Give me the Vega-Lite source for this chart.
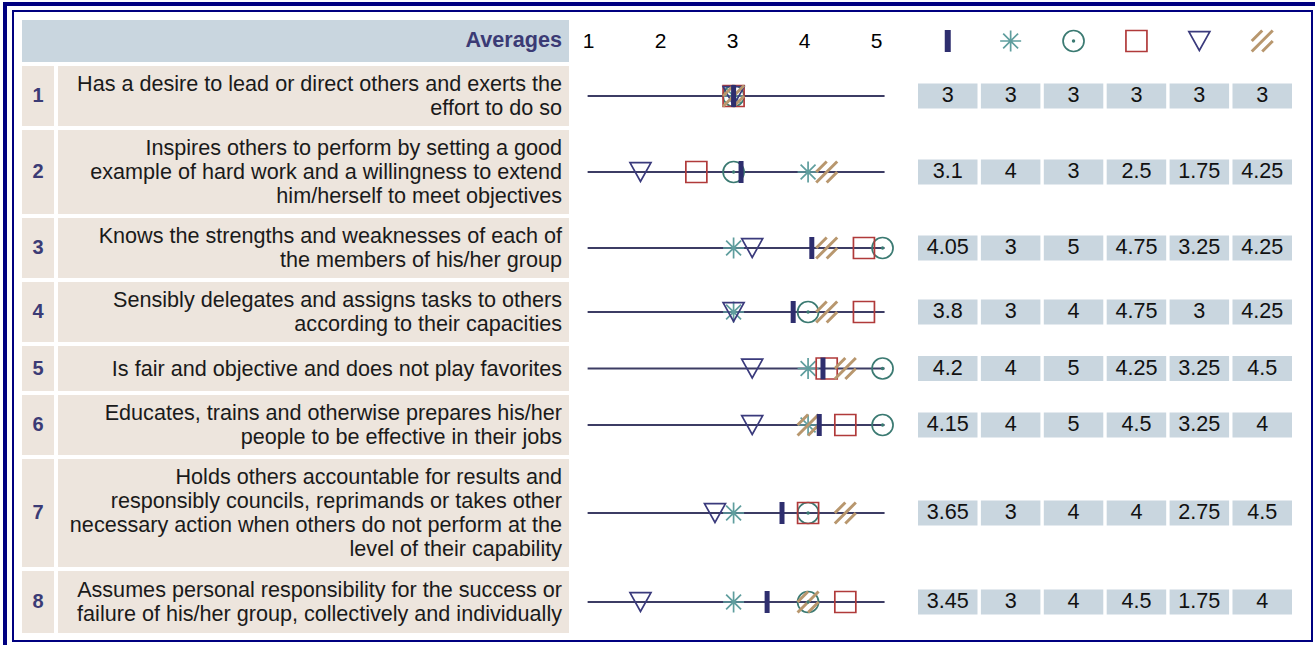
{
"$schema": "https://vega.github.io/schema/vega-lite/v6.json",
"padding": {"left": 3, "top": 2, "right": 0, "bottom": 0},
"background": "#ffffff",
"config": {"view": {"stroke": null}, "font": "Liberation Sans", "text": {"font": "Liberation Sans"}},
"datasets": {
"items": [
{"item":1,"text":"Has a desire to lead or direct others and exerts the\neffort to do so"},
{"item":2,"text":"Inspires others to perform by setting a good\nexample of hard work and a willingness to extend\nhim/herself to meet objectives"},
{"item":3,"text":"Knows the strengths and weaknesses of each of\nthe members of his/her group"},
{"item":4,"text":"Sensibly delegates and assigns tasks to others\naccording to their capacities"},
{"item":5,"text":"Is fair and objective and does not play favorites"},
{"item":6,"text":"Educates, trains and otherwise prepares his/her\npeople to be effective in their jobs"},
{"item":7,"text":"Holds others accountable for results and\nresponsibly councils, reprimands or takes other\nnecessary action when others do not perform at the\nlevel of their capability"},
{"item":8,"text":"Assumes personal responsibility for the success or\nfailure of his/her group, collectively and individually"}
],
"scores": [
{"item":1,"series":"Average","value":3},{"item":1,"series":"Group 1","value":3},{"item":1,"series":"Group 2","value":3},{"item":1,"series":"Group 3","value":3},{"item":1,"series":"Group 4","value":3},{"item":1,"series":"Group 5","value":3},
{"item":2,"series":"Average","value":3.1},{"item":2,"series":"Group 1","value":4},{"item":2,"series":"Group 2","value":3},{"item":2,"series":"Group 3","value":2.5},{"item":2,"series":"Group 4","value":1.75},{"item":2,"series":"Group 5","value":4.25},
{"item":3,"series":"Average","value":4.05},{"item":3,"series":"Group 1","value":3},{"item":3,"series":"Group 2","value":5},{"item":3,"series":"Group 3","value":4.75},{"item":3,"series":"Group 4","value":3.25},{"item":3,"series":"Group 5","value":4.25},
{"item":4,"series":"Average","value":3.8},{"item":4,"series":"Group 1","value":3},{"item":4,"series":"Group 2","value":4},{"item":4,"series":"Group 3","value":4.75},{"item":4,"series":"Group 4","value":3},{"item":4,"series":"Group 5","value":4.25},
{"item":5,"series":"Average","value":4.2},{"item":5,"series":"Group 1","value":4},{"item":5,"series":"Group 2","value":5},{"item":5,"series":"Group 3","value":4.25},{"item":5,"series":"Group 4","value":3.25},{"item":5,"series":"Group 5","value":4.5},
{"item":6,"series":"Average","value":4.15},{"item":6,"series":"Group 1","value":4},{"item":6,"series":"Group 2","value":5},{"item":6,"series":"Group 3","value":4.5},{"item":6,"series":"Group 4","value":3.25},{"item":6,"series":"Group 5","value":4},
{"item":7,"series":"Average","value":3.65},{"item":7,"series":"Group 1","value":3},{"item":7,"series":"Group 2","value":4},{"item":7,"series":"Group 3","value":4},{"item":7,"series":"Group 4","value":2.75},{"item":7,"series":"Group 5","value":4.5},
{"item":8,"series":"Average","value":3.45},{"item":8,"series":"Group 1","value":3},{"item":8,"series":"Group 2","value":4},{"item":8,"series":"Group 3","value":4.5},{"item":8,"series":"Group 4","value":1.75},{"item":8,"series":"Group 5","value":4}
]
},
"spacing": 0,
"vconcat": [
{"width": 1312, "height": 4, "data": {"values": []}, "mark": "rect", "view": {"fill": "#000080"}},
{"spacing": 5, "hconcat": [
{"width": 4, "height": 639, "data": {"values": []}, "mark": "rect", "view": {"fill": "#000080"}},
{"spacing": 0, "vconcat": [
{"width": 1, "height": 4, "data": {"values": []}, "mark": "rect"},
{"spacing": 0, "vconcat": [
{"width": 1301, "height": 2, "data": {"values": []}, "mark": "rect", "view": {"fill": "#000080"}},
{"spacing": 8, "hconcat": [
{"width": 2, "height": 628, "data": {"values": []}, "mark": "rect", "view": {"fill": "#000080"}},
{"spacing": 4, "vconcat": [
{"width": 1, "height": 4, "data": {"values": []}, "mark": "rect"},

{"spacing": 4, "hconcat": [
{"width": 547, "height": 42, "view": {"fill": "#c9d6df"}, "data": {"values": [{"label": "Averages"}]}, "mark": {"type": "text", "align": "right", "dx": -7, "fontSize": 21.6, "fontWeight": "bold", "color": "#3b3b75"}, "encoding": {"text": {"field": "label", "type": "nominal"}, "x": {"value": "width"}}},
{"width": 341, "height": 42, "data": {"name": "scores"}, "transform": [{"filter": "datum.item == 1"}], "mark": {"type": "point", "opacity": 0}, "encoding": {"x": {"field": "value", "type": "quantitative", "scale": {"domain": [0.792, 5.528]}, "axis": {"orient": "bottom", "offset": -21, "domain": false, "ticks": false, "tickSize": 0, "grid": false, "labelPadding": 0, "labelBaseline": "middle", "labelFontSize": 21, "labelColor": "#000000", "labelFont": "Liberation Sans", "values": [1,2,3,4,5], "format": "d", "title": null, "labelFlush": false, "labelOverlap": false}}}},
{"width": 385, "height": 42, "data": {"name": "scores"}, "transform": [{"filter": "datum.item == 1"}], "layer": [
{"transform": [{"filter": "datum.series != 'Average' && datum.series != 'Group 5'"}], "mark": {"type": "point", "filled": false, "opacity": 1, "size": 441, "strokeWidth": 1.7}, "encoding": {"x": {"field": "series", "type": "nominal", "scale": {"domain": ["Average","Group 1","Group 2","Group 3","Group 4","Group 5"], "paddingInner": 0.054, "paddingOuter": 0.0875, "align": 0}, "axis": null}, "shape": {"field": "series", "type": "nominal", "scale": {"domain": ["Group 1","Group 2","Group 3","Group 4","Group 5"], "range": ["M0,-1L0,1M-1,0L1,0M-0.71,-0.71L0.71,0.71M-0.71,0.71L0.71,-0.71","circle","square","M-1,-0.9L1,-0.9L0,0.9Z","M-1,0L0,-1M-1,1L1,-1M0,1L1,0"]}, "legend": null}, "color": {"field": "series", "type": "nominal", "scale": {"domain": ["Group 1","Group 2","Group 3","Group 4","Group 5"], "range": ["#5f9e9e","#3b7a72","#b03a3a","#3a3a7c","#b8976e"]}, "legend": null}}},
{"transform": [{"filter": "datum.series == 'Group 5'"}], "mark": {"type": "point", "filled": false, "opacity": 1, "size": 441, "strokeWidth": 3}, "encoding": {"x": {"field": "series", "type": "nominal", "scale": {"domain": ["Average","Group 1","Group 2","Group 3","Group 4","Group 5"], "paddingInner": 0.054, "paddingOuter": 0.0875, "align": 0}, "axis": null}, "shape": {"field": "series", "type": "nominal", "scale": {"domain": ["Group 1","Group 2","Group 3","Group 4","Group 5"], "range": ["M0,-1L0,1M-1,0L1,0M-0.71,-0.71L0.71,0.71M-0.71,0.71L0.71,-0.71","circle","square","M-1,-0.9L1,-0.9L0,0.9Z","M-1,0L0,-1M-1,1L1,-1M0,1L1,0"]}, "legend": null}, "color": {"field": "series", "type": "nominal", "scale": {"domain": ["Group 1","Group 2","Group 3","Group 4","Group 5"], "range": ["#5f9e9e","#3b7a72","#b03a3a","#3a3a7c","#b8976e"]}, "legend": null}}},
{"transform": [{"filter": "datum.series == 'Group 2'"}], "mark": {"type": "circle", "size": 12, "opacity": 1, "color": "#3b7a72"}, "encoding": {"x": {"field": "series", "type": "nominal", "scale": {"domain": ["Average","Group 1","Group 2","Group 3","Group 4","Group 5"], "paddingInner": 0.054, "paddingOuter": 0.0875, "align": 0}, "axis": null}}},
{"transform": [{"filter": "datum.series == 'Average'"}], "mark": {"type": "tick", "orient": "vertical", "thickness": 6, "size": 22, "color": "#2e2e6e", "opacity": 1}, "encoding": {"x": {"field": "series", "type": "nominal", "scale": {"domain": ["Average","Group 1","Group 2","Group 3","Group 4","Group 5"], "paddingInner": 0.054, "paddingOuter": 0.0875, "align": 0}, "axis": null}}}
]}
]},

{"spacing": 4, "hconcat": [
{"width": 32, "height": 60, "view": {"fill": "#ede5dd"}, "data": {"name": "items"}, "transform": [{"filter": "datum.item == 1"}], "mark": {"type": "text", "fontSize": 20, "fontWeight": "bold", "color": "#3b3b75"}, "encoding": {"text": {"field": "item", "type": "nominal"}}},
{"width": 511, "height": 60, "view": {"fill": "#ede5dd"}, "data": {"name": "items"}, "transform": [{"filter": "datum.item == 1"}], "mark": {"type": "text", "align": "right", "dx": -7, "dy": -11, "fontSize": 21.6, "lineHeight": 24, "lineBreak": "\n", "color": "#1a1a1a"}, "encoding": {"text": {"field": "text", "type": "nominal"}, "x": {"value": "width"}}},
{"width": 341, "height": 60, "data": {"name": "scores"}, "transform": [{"filter": "datum.item == 1"}], "layer": [
{"data": {"name": "items"}, "transform": [{"filter": "datum.item == 1"}], "mark": {"type": "rule", "color": "#3c3c64", "strokeWidth": 2, "xOffset": 3, "x2Offset": 2}, "encoding": {"x": {"datum": 1, "type": "quantitative", "scale": {"domain": [0.844, 5.422]}, "axis": null}, "x2": {"datum": 5}}},
{"transform": [{"filter": "datum.series != 'Average' && datum.series != 'Group 5'"}], "mark": {"type": "point", "filled": false, "opacity": 1, "size": 441, "strokeWidth": 1.7}, "encoding": {"x": {"field": "value", "type": "quantitative", "scale": {"domain": [0.844, 5.422]}, "axis": null}, "shape": {"field": "series", "type": "nominal", "scale": {"domain": ["Group 1","Group 2","Group 3","Group 4","Group 5"], "range": ["M0,-1L0,1M-1,0L1,0M-0.71,-0.71L0.71,0.71M-0.71,0.71L0.71,-0.71","circle","square","M-1,-0.9L1,-0.9L0,0.9Z","M-1,0L0,-1M-1,1L1,-1M0,1L1,0"]}, "legend": null}, "color": {"field": "series", "type": "nominal", "scale": {"domain": ["Group 1","Group 2","Group 3","Group 4","Group 5"], "range": ["#5f9e9e","#3b7a72","#b03a3a","#3a3a7c","#b8976e"]}, "legend": null}}},
{"transform": [{"filter": "datum.series == 'Group 5'"}], "mark": {"type": "point", "filled": false, "opacity": 1, "size": 441, "strokeWidth": 3}, "encoding": {"x": {"field": "value", "type": "quantitative", "scale": {"domain": [0.844, 5.422]}, "axis": null}, "shape": {"field": "series", "type": "nominal", "scale": {"domain": ["Group 1","Group 2","Group 3","Group 4","Group 5"], "range": ["M0,-1L0,1M-1,0L1,0M-0.71,-0.71L0.71,0.71M-0.71,0.71L0.71,-0.71","circle","square","M-1,-0.9L1,-0.9L0,0.9Z","M-1,0L0,-1M-1,1L1,-1M0,1L1,0"]}, "legend": null}, "color": {"field": "series", "type": "nominal", "scale": {"domain": ["Group 1","Group 2","Group 3","Group 4","Group 5"], "range": ["#5f9e9e","#3b7a72","#b03a3a","#3a3a7c","#b8976e"]}, "legend": null}}},
{"transform": [{"filter": "datum.series == 'Group 2'"}], "mark": {"type": "circle", "size": 12, "opacity": 1, "color": "#3b7a72"}, "encoding": {"x": {"field": "value", "type": "quantitative", "scale": {"domain": [0.844, 5.422]}, "axis": null}}},
{"transform": [{"filter": "datum.series == 'Average'"}], "mark": {"type": "tick", "orient": "vertical", "thickness": 5, "size": 22, "color": "#2e2e6e", "opacity": 1}, "encoding": {"x": {"field": "value", "type": "quantitative", "scale": {"domain": [0.844, 5.422]}, "axis": null}}}
]},
{"width": 385, "height": 60, "data": {"name": "scores"}, "transform": [{"filter": "datum.item == 1"}], "encoding": {"x": {"field": "series", "type": "nominal", "scale": {"domain": ["Average","Group 1","Group 2","Group 3","Group 4","Group 5"], "paddingInner": 0.054, "paddingOuter": 0.0875, "align": 0}, "axis": null}, "y": {"field": "item", "type": "nominal", "scale": {"paddingInner": 0, "paddingOuter": 0}, "axis": null}}, "layer": [
{"mark": {"type": "rect", "height": 25, "color": "#c9d6df"}},
{"mark": {"type": "text", "fontSize": 21.6, "color": "#111111"}, "encoding": {"text": {"field": "value", "type": "quantitative", "format": "~g"}}}
]}
]},

{"spacing": 4, "hconcat": [
{"width": 32, "height": 84, "view": {"fill": "#ede5dd"}, "data": {"name": "items"}, "transform": [{"filter": "datum.item == 2"}], "mark": {"type": "text", "fontSize": 20, "fontWeight": "bold", "color": "#3b3b75"}, "encoding": {"text": {"field": "item", "type": "nominal"}}},
{"width": 511, "height": 84, "view": {"fill": "#ede5dd"}, "data": {"name": "items"}, "transform": [{"filter": "datum.item == 2"}], "mark": {"type": "text", "align": "right", "dx": -7, "dy": -23, "fontSize": 21.6, "lineHeight": 24, "lineBreak": "\n", "color": "#1a1a1a"}, "encoding": {"text": {"field": "text", "type": "nominal"}, "x": {"value": "width"}}},
{"width": 341, "height": 84, "data": {"name": "scores"}, "transform": [{"filter": "datum.item == 2"}], "layer": [
{"data": {"name": "items"}, "transform": [{"filter": "datum.item == 2"}], "mark": {"type": "rule", "color": "#3c3c64", "strokeWidth": 2, "xOffset": 3, "x2Offset": 2}, "encoding": {"x": {"datum": 1, "type": "quantitative", "scale": {"domain": [0.844, 5.422]}, "axis": null}, "x2": {"datum": 5}}},
{"transform": [{"filter": "datum.series != 'Average' && datum.series != 'Group 5'"}], "mark": {"type": "point", "filled": false, "opacity": 1, "size": 441, "strokeWidth": 1.7}, "encoding": {"x": {"field": "value", "type": "quantitative", "scale": {"domain": [0.844, 5.422]}, "axis": null}, "shape": {"field": "series", "type": "nominal", "scale": {"domain": ["Group 1","Group 2","Group 3","Group 4","Group 5"], "range": ["M0,-1L0,1M-1,0L1,0M-0.71,-0.71L0.71,0.71M-0.71,0.71L0.71,-0.71","circle","square","M-1,-0.9L1,-0.9L0,0.9Z","M-1,0L0,-1M-1,1L1,-1M0,1L1,0"]}, "legend": null}, "color": {"field": "series", "type": "nominal", "scale": {"domain": ["Group 1","Group 2","Group 3","Group 4","Group 5"], "range": ["#5f9e9e","#3b7a72","#b03a3a","#3a3a7c","#b8976e"]}, "legend": null}}},
{"transform": [{"filter": "datum.series == 'Group 5'"}], "mark": {"type": "point", "filled": false, "opacity": 1, "size": 441, "strokeWidth": 3}, "encoding": {"x": {"field": "value", "type": "quantitative", "scale": {"domain": [0.844, 5.422]}, "axis": null}, "shape": {"field": "series", "type": "nominal", "scale": {"domain": ["Group 1","Group 2","Group 3","Group 4","Group 5"], "range": ["M0,-1L0,1M-1,0L1,0M-0.71,-0.71L0.71,0.71M-0.71,0.71L0.71,-0.71","circle","square","M-1,-0.9L1,-0.9L0,0.9Z","M-1,0L0,-1M-1,1L1,-1M0,1L1,0"]}, "legend": null}, "color": {"field": "series", "type": "nominal", "scale": {"domain": ["Group 1","Group 2","Group 3","Group 4","Group 5"], "range": ["#5f9e9e","#3b7a72","#b03a3a","#3a3a7c","#b8976e"]}, "legend": null}}},
{"transform": [{"filter": "datum.series == 'Group 2'"}], "mark": {"type": "circle", "size": 12, "opacity": 1, "color": "#3b7a72"}, "encoding": {"x": {"field": "value", "type": "quantitative", "scale": {"domain": [0.844, 5.422]}, "axis": null}}},
{"transform": [{"filter": "datum.series == 'Average'"}], "mark": {"type": "tick", "orient": "vertical", "thickness": 5, "size": 22, "color": "#2e2e6e", "opacity": 1}, "encoding": {"x": {"field": "value", "type": "quantitative", "scale": {"domain": [0.844, 5.422]}, "axis": null}}}
]},
{"width": 385, "height": 84, "data": {"name": "scores"}, "transform": [{"filter": "datum.item == 2"}], "encoding": {"x": {"field": "series", "type": "nominal", "scale": {"domain": ["Average","Group 1","Group 2","Group 3","Group 4","Group 5"], "paddingInner": 0.054, "paddingOuter": 0.0875, "align": 0}, "axis": null}, "y": {"field": "item", "type": "nominal", "scale": {"paddingInner": 0, "paddingOuter": 0}, "axis": null}}, "layer": [
{"mark": {"type": "rect", "height": 25, "color": "#c9d6df"}},
{"mark": {"type": "text", "fontSize": 21.6, "color": "#111111"}, "encoding": {"text": {"field": "value", "type": "quantitative", "format": "~g"}}}
]}
]},

{"spacing": 4, "hconcat": [
{"width": 32, "height": 60, "view": {"fill": "#ede5dd"}, "data": {"name": "items"}, "transform": [{"filter": "datum.item == 3"}], "mark": {"type": "text", "fontSize": 20, "fontWeight": "bold", "color": "#3b3b75"}, "encoding": {"text": {"field": "item", "type": "nominal"}}},
{"width": 511, "height": 60, "view": {"fill": "#ede5dd"}, "data": {"name": "items"}, "transform": [{"filter": "datum.item == 3"}], "mark": {"type": "text", "align": "right", "dx": -7, "dy": -11, "fontSize": 21.6, "lineHeight": 24, "lineBreak": "\n", "color": "#1a1a1a"}, "encoding": {"text": {"field": "text", "type": "nominal"}, "x": {"value": "width"}}},
{"width": 341, "height": 60, "data": {"name": "scores"}, "transform": [{"filter": "datum.item == 3"}], "layer": [
{"data": {"name": "items"}, "transform": [{"filter": "datum.item == 3"}], "mark": {"type": "rule", "color": "#3c3c64", "strokeWidth": 2, "xOffset": 3, "x2Offset": 2}, "encoding": {"x": {"datum": 1, "type": "quantitative", "scale": {"domain": [0.844, 5.422]}, "axis": null}, "x2": {"datum": 5}}},
{"transform": [{"filter": "datum.series != 'Average' && datum.series != 'Group 5'"}], "mark": {"type": "point", "filled": false, "opacity": 1, "size": 441, "strokeWidth": 1.7}, "encoding": {"x": {"field": "value", "type": "quantitative", "scale": {"domain": [0.844, 5.422]}, "axis": null}, "shape": {"field": "series", "type": "nominal", "scale": {"domain": ["Group 1","Group 2","Group 3","Group 4","Group 5"], "range": ["M0,-1L0,1M-1,0L1,0M-0.71,-0.71L0.71,0.71M-0.71,0.71L0.71,-0.71","circle","square","M-1,-0.9L1,-0.9L0,0.9Z","M-1,0L0,-1M-1,1L1,-1M0,1L1,0"]}, "legend": null}, "color": {"field": "series", "type": "nominal", "scale": {"domain": ["Group 1","Group 2","Group 3","Group 4","Group 5"], "range": ["#5f9e9e","#3b7a72","#b03a3a","#3a3a7c","#b8976e"]}, "legend": null}}},
{"transform": [{"filter": "datum.series == 'Group 5'"}], "mark": {"type": "point", "filled": false, "opacity": 1, "size": 441, "strokeWidth": 3}, "encoding": {"x": {"field": "value", "type": "quantitative", "scale": {"domain": [0.844, 5.422]}, "axis": null}, "shape": {"field": "series", "type": "nominal", "scale": {"domain": ["Group 1","Group 2","Group 3","Group 4","Group 5"], "range": ["M0,-1L0,1M-1,0L1,0M-0.71,-0.71L0.71,0.71M-0.71,0.71L0.71,-0.71","circle","square","M-1,-0.9L1,-0.9L0,0.9Z","M-1,0L0,-1M-1,1L1,-1M0,1L1,0"]}, "legend": null}, "color": {"field": "series", "type": "nominal", "scale": {"domain": ["Group 1","Group 2","Group 3","Group 4","Group 5"], "range": ["#5f9e9e","#3b7a72","#b03a3a","#3a3a7c","#b8976e"]}, "legend": null}}},
{"transform": [{"filter": "datum.series == 'Group 2'"}], "mark": {"type": "circle", "size": 12, "opacity": 1, "color": "#3b7a72"}, "encoding": {"x": {"field": "value", "type": "quantitative", "scale": {"domain": [0.844, 5.422]}, "axis": null}}},
{"transform": [{"filter": "datum.series == 'Average'"}], "mark": {"type": "tick", "orient": "vertical", "thickness": 5, "size": 22, "color": "#2e2e6e", "opacity": 1}, "encoding": {"x": {"field": "value", "type": "quantitative", "scale": {"domain": [0.844, 5.422]}, "axis": null}}}
]},
{"width": 385, "height": 60, "data": {"name": "scores"}, "transform": [{"filter": "datum.item == 3"}], "encoding": {"x": {"field": "series", "type": "nominal", "scale": {"domain": ["Average","Group 1","Group 2","Group 3","Group 4","Group 5"], "paddingInner": 0.054, "paddingOuter": 0.0875, "align": 0}, "axis": null}, "y": {"field": "item", "type": "nominal", "scale": {"paddingInner": 0, "paddingOuter": 0}, "axis": null}}, "layer": [
{"mark": {"type": "rect", "height": 25, "color": "#c9d6df"}},
{"mark": {"type": "text", "fontSize": 21.6, "color": "#111111"}, "encoding": {"text": {"field": "value", "type": "quantitative", "format": "~g"}}}
]}
]},

{"spacing": 4, "hconcat": [
{"width": 32, "height": 60, "view": {"fill": "#ede5dd"}, "data": {"name": "items"}, "transform": [{"filter": "datum.item == 4"}], "mark": {"type": "text", "fontSize": 20, "fontWeight": "bold", "color": "#3b3b75"}, "encoding": {"text": {"field": "item", "type": "nominal"}}},
{"width": 511, "height": 60, "view": {"fill": "#ede5dd"}, "data": {"name": "items"}, "transform": [{"filter": "datum.item == 4"}], "mark": {"type": "text", "align": "right", "dx": -7, "dy": -11, "fontSize": 21.6, "lineHeight": 24, "lineBreak": "\n", "color": "#1a1a1a"}, "encoding": {"text": {"field": "text", "type": "nominal"}, "x": {"value": "width"}}},
{"width": 341, "height": 60, "data": {"name": "scores"}, "transform": [{"filter": "datum.item == 4"}], "layer": [
{"data": {"name": "items"}, "transform": [{"filter": "datum.item == 4"}], "mark": {"type": "rule", "color": "#3c3c64", "strokeWidth": 2, "xOffset": 3, "x2Offset": 2}, "encoding": {"x": {"datum": 1, "type": "quantitative", "scale": {"domain": [0.844, 5.422]}, "axis": null}, "x2": {"datum": 5}}},
{"transform": [{"filter": "datum.series != 'Average' && datum.series != 'Group 5'"}], "mark": {"type": "point", "filled": false, "opacity": 1, "size": 441, "strokeWidth": 1.7}, "encoding": {"x": {"field": "value", "type": "quantitative", "scale": {"domain": [0.844, 5.422]}, "axis": null}, "shape": {"field": "series", "type": "nominal", "scale": {"domain": ["Group 1","Group 2","Group 3","Group 4","Group 5"], "range": ["M0,-1L0,1M-1,0L1,0M-0.71,-0.71L0.71,0.71M-0.71,0.71L0.71,-0.71","circle","square","M-1,-0.9L1,-0.9L0,0.9Z","M-1,0L0,-1M-1,1L1,-1M0,1L1,0"]}, "legend": null}, "color": {"field": "series", "type": "nominal", "scale": {"domain": ["Group 1","Group 2","Group 3","Group 4","Group 5"], "range": ["#5f9e9e","#3b7a72","#b03a3a","#3a3a7c","#b8976e"]}, "legend": null}}},
{"transform": [{"filter": "datum.series == 'Group 5'"}], "mark": {"type": "point", "filled": false, "opacity": 1, "size": 441, "strokeWidth": 3}, "encoding": {"x": {"field": "value", "type": "quantitative", "scale": {"domain": [0.844, 5.422]}, "axis": null}, "shape": {"field": "series", "type": "nominal", "scale": {"domain": ["Group 1","Group 2","Group 3","Group 4","Group 5"], "range": ["M0,-1L0,1M-1,0L1,0M-0.71,-0.71L0.71,0.71M-0.71,0.71L0.71,-0.71","circle","square","M-1,-0.9L1,-0.9L0,0.9Z","M-1,0L0,-1M-1,1L1,-1M0,1L1,0"]}, "legend": null}, "color": {"field": "series", "type": "nominal", "scale": {"domain": ["Group 1","Group 2","Group 3","Group 4","Group 5"], "range": ["#5f9e9e","#3b7a72","#b03a3a","#3a3a7c","#b8976e"]}, "legend": null}}},
{"transform": [{"filter": "datum.series == 'Group 2'"}], "mark": {"type": "circle", "size": 12, "opacity": 1, "color": "#3b7a72"}, "encoding": {"x": {"field": "value", "type": "quantitative", "scale": {"domain": [0.844, 5.422]}, "axis": null}}},
{"transform": [{"filter": "datum.series == 'Average'"}], "mark": {"type": "tick", "orient": "vertical", "thickness": 5, "size": 22, "color": "#2e2e6e", "opacity": 1}, "encoding": {"x": {"field": "value", "type": "quantitative", "scale": {"domain": [0.844, 5.422]}, "axis": null}}}
]},
{"width": 385, "height": 60, "data": {"name": "scores"}, "transform": [{"filter": "datum.item == 4"}], "encoding": {"x": {"field": "series", "type": "nominal", "scale": {"domain": ["Average","Group 1","Group 2","Group 3","Group 4","Group 5"], "paddingInner": 0.054, "paddingOuter": 0.0875, "align": 0}, "axis": null}, "y": {"field": "item", "type": "nominal", "scale": {"paddingInner": 0, "paddingOuter": 0}, "axis": null}}, "layer": [
{"mark": {"type": "rect", "height": 25, "color": "#c9d6df"}},
{"mark": {"type": "text", "fontSize": 21.6, "color": "#111111"}, "encoding": {"text": {"field": "value", "type": "quantitative", "format": "~g"}}}
]}
]},

{"spacing": 4, "hconcat": [
{"width": 32, "height": 45, "view": {"fill": "#ede5dd"}, "data": {"name": "items"}, "transform": [{"filter": "datum.item == 5"}], "mark": {"type": "text", "fontSize": 20, "fontWeight": "bold", "color": "#3b3b75"}, "encoding": {"text": {"field": "item", "type": "nominal"}}},
{"width": 511, "height": 45, "view": {"fill": "#ede5dd"}, "data": {"name": "items"}, "transform": [{"filter": "datum.item == 5"}], "mark": {"type": "text", "align": "right", "dx": -7, "dy": 1, "fontSize": 21.6, "lineHeight": 24, "lineBreak": "\n", "color": "#1a1a1a"}, "encoding": {"text": {"field": "text", "type": "nominal"}, "x": {"value": "width"}}},
{"width": 341, "height": 45, "data": {"name": "scores"}, "transform": [{"filter": "datum.item == 5"}], "layer": [
{"data": {"name": "items"}, "transform": [{"filter": "datum.item == 5"}], "mark": {"type": "rule", "color": "#3c3c64", "strokeWidth": 2, "xOffset": 3, "x2Offset": 2}, "encoding": {"x": {"datum": 1, "type": "quantitative", "scale": {"domain": [0.844, 5.422]}, "axis": null}, "x2": {"datum": 5}}},
{"transform": [{"filter": "datum.series != 'Average' && datum.series != 'Group 5'"}], "mark": {"type": "point", "filled": false, "opacity": 1, "size": 441, "strokeWidth": 1.7}, "encoding": {"x": {"field": "value", "type": "quantitative", "scale": {"domain": [0.844, 5.422]}, "axis": null}, "shape": {"field": "series", "type": "nominal", "scale": {"domain": ["Group 1","Group 2","Group 3","Group 4","Group 5"], "range": ["M0,-1L0,1M-1,0L1,0M-0.71,-0.71L0.71,0.71M-0.71,0.71L0.71,-0.71","circle","square","M-1,-0.9L1,-0.9L0,0.9Z","M-1,0L0,-1M-1,1L1,-1M0,1L1,0"]}, "legend": null}, "color": {"field": "series", "type": "nominal", "scale": {"domain": ["Group 1","Group 2","Group 3","Group 4","Group 5"], "range": ["#5f9e9e","#3b7a72","#b03a3a","#3a3a7c","#b8976e"]}, "legend": null}}},
{"transform": [{"filter": "datum.series == 'Group 5'"}], "mark": {"type": "point", "filled": false, "opacity": 1, "size": 441, "strokeWidth": 3}, "encoding": {"x": {"field": "value", "type": "quantitative", "scale": {"domain": [0.844, 5.422]}, "axis": null}, "shape": {"field": "series", "type": "nominal", "scale": {"domain": ["Group 1","Group 2","Group 3","Group 4","Group 5"], "range": ["M0,-1L0,1M-1,0L1,0M-0.71,-0.71L0.71,0.71M-0.71,0.71L0.71,-0.71","circle","square","M-1,-0.9L1,-0.9L0,0.9Z","M-1,0L0,-1M-1,1L1,-1M0,1L1,0"]}, "legend": null}, "color": {"field": "series", "type": "nominal", "scale": {"domain": ["Group 1","Group 2","Group 3","Group 4","Group 5"], "range": ["#5f9e9e","#3b7a72","#b03a3a","#3a3a7c","#b8976e"]}, "legend": null}}},
{"transform": [{"filter": "datum.series == 'Group 2'"}], "mark": {"type": "circle", "size": 12, "opacity": 1, "color": "#3b7a72"}, "encoding": {"x": {"field": "value", "type": "quantitative", "scale": {"domain": [0.844, 5.422]}, "axis": null}}},
{"transform": [{"filter": "datum.series == 'Average'"}], "mark": {"type": "tick", "orient": "vertical", "thickness": 5, "size": 22, "color": "#2e2e6e", "opacity": 1}, "encoding": {"x": {"field": "value", "type": "quantitative", "scale": {"domain": [0.844, 5.422]}, "axis": null}}}
]},
{"width": 385, "height": 45, "data": {"name": "scores"}, "transform": [{"filter": "datum.item == 5"}], "encoding": {"x": {"field": "series", "type": "nominal", "scale": {"domain": ["Average","Group 1","Group 2","Group 3","Group 4","Group 5"], "paddingInner": 0.054, "paddingOuter": 0.0875, "align": 0}, "axis": null}, "y": {"field": "item", "type": "nominal", "scale": {"paddingInner": 0, "paddingOuter": 0}, "axis": null}}, "layer": [
{"mark": {"type": "rect", "height": 25, "color": "#c9d6df"}},
{"mark": {"type": "text", "fontSize": 21.6, "color": "#111111"}, "encoding": {"text": {"field": "value", "type": "quantitative", "format": "~g"}}}
]}
]},

{"spacing": 4, "hconcat": [
{"width": 32, "height": 60, "view": {"fill": "#ede5dd"}, "data": {"name": "items"}, "transform": [{"filter": "datum.item == 6"}], "mark": {"type": "text", "fontSize": 20, "fontWeight": "bold", "color": "#3b3b75"}, "encoding": {"text": {"field": "item", "type": "nominal"}}},
{"width": 511, "height": 60, "view": {"fill": "#ede5dd"}, "data": {"name": "items"}, "transform": [{"filter": "datum.item == 6"}], "mark": {"type": "text", "align": "right", "dx": -7, "dy": -11, "fontSize": 21.6, "lineHeight": 24, "lineBreak": "\n", "color": "#1a1a1a"}, "encoding": {"text": {"field": "text", "type": "nominal"}, "x": {"value": "width"}}},
{"width": 341, "height": 60, "data": {"name": "scores"}, "transform": [{"filter": "datum.item == 6"}], "layer": [
{"data": {"name": "items"}, "transform": [{"filter": "datum.item == 6"}], "mark": {"type": "rule", "color": "#3c3c64", "strokeWidth": 2, "xOffset": 3, "x2Offset": 2}, "encoding": {"x": {"datum": 1, "type": "quantitative", "scale": {"domain": [0.844, 5.422]}, "axis": null}, "x2": {"datum": 5}}},
{"transform": [{"filter": "datum.series != 'Average' && datum.series != 'Group 5'"}], "mark": {"type": "point", "filled": false, "opacity": 1, "size": 441, "strokeWidth": 1.7}, "encoding": {"x": {"field": "value", "type": "quantitative", "scale": {"domain": [0.844, 5.422]}, "axis": null}, "shape": {"field": "series", "type": "nominal", "scale": {"domain": ["Group 1","Group 2","Group 3","Group 4","Group 5"], "range": ["M0,-1L0,1M-1,0L1,0M-0.71,-0.71L0.71,0.71M-0.71,0.71L0.71,-0.71","circle","square","M-1,-0.9L1,-0.9L0,0.9Z","M-1,0L0,-1M-1,1L1,-1M0,1L1,0"]}, "legend": null}, "color": {"field": "series", "type": "nominal", "scale": {"domain": ["Group 1","Group 2","Group 3","Group 4","Group 5"], "range": ["#5f9e9e","#3b7a72","#b03a3a","#3a3a7c","#b8976e"]}, "legend": null}}},
{"transform": [{"filter": "datum.series == 'Group 5'"}], "mark": {"type": "point", "filled": false, "opacity": 1, "size": 441, "strokeWidth": 3}, "encoding": {"x": {"field": "value", "type": "quantitative", "scale": {"domain": [0.844, 5.422]}, "axis": null}, "shape": {"field": "series", "type": "nominal", "scale": {"domain": ["Group 1","Group 2","Group 3","Group 4","Group 5"], "range": ["M0,-1L0,1M-1,0L1,0M-0.71,-0.71L0.71,0.71M-0.71,0.71L0.71,-0.71","circle","square","M-1,-0.9L1,-0.9L0,0.9Z","M-1,0L0,-1M-1,1L1,-1M0,1L1,0"]}, "legend": null}, "color": {"field": "series", "type": "nominal", "scale": {"domain": ["Group 1","Group 2","Group 3","Group 4","Group 5"], "range": ["#5f9e9e","#3b7a72","#b03a3a","#3a3a7c","#b8976e"]}, "legend": null}}},
{"transform": [{"filter": "datum.series == 'Group 2'"}], "mark": {"type": "circle", "size": 12, "opacity": 1, "color": "#3b7a72"}, "encoding": {"x": {"field": "value", "type": "quantitative", "scale": {"domain": [0.844, 5.422]}, "axis": null}}},
{"transform": [{"filter": "datum.series == 'Average'"}], "mark": {"type": "tick", "orient": "vertical", "thickness": 5, "size": 22, "color": "#2e2e6e", "opacity": 1}, "encoding": {"x": {"field": "value", "type": "quantitative", "scale": {"domain": [0.844, 5.422]}, "axis": null}}}
]},
{"width": 385, "height": 60, "data": {"name": "scores"}, "transform": [{"filter": "datum.item == 6"}], "encoding": {"x": {"field": "series", "type": "nominal", "scale": {"domain": ["Average","Group 1","Group 2","Group 3","Group 4","Group 5"], "paddingInner": 0.054, "paddingOuter": 0.0875, "align": 0}, "axis": null}, "y": {"field": "item", "type": "nominal", "scale": {"paddingInner": 0, "paddingOuter": 0}, "axis": null}}, "layer": [
{"mark": {"type": "rect", "height": 25, "color": "#c9d6df"}},
{"mark": {"type": "text", "fontSize": 21.6, "color": "#111111"}, "encoding": {"text": {"field": "value", "type": "quantitative", "format": "~g"}}}
]}
]},

{"spacing": 4, "hconcat": [
{"width": 32, "height": 108, "view": {"fill": "#ede5dd"}, "data": {"name": "items"}, "transform": [{"filter": "datum.item == 7"}], "mark": {"type": "text", "fontSize": 20, "fontWeight": "bold", "color": "#3b3b75"}, "encoding": {"text": {"field": "item", "type": "nominal"}}},
{"width": 511, "height": 108, "view": {"fill": "#ede5dd"}, "data": {"name": "items"}, "transform": [{"filter": "datum.item == 7"}], "mark": {"type": "text", "align": "right", "dx": -7, "dy": -35, "fontSize": 21.6, "lineHeight": 24, "lineBreak": "\n", "color": "#1a1a1a"}, "encoding": {"text": {"field": "text", "type": "nominal"}, "x": {"value": "width"}}},
{"width": 341, "height": 108, "data": {"name": "scores"}, "transform": [{"filter": "datum.item == 7"}], "layer": [
{"data": {"name": "items"}, "transform": [{"filter": "datum.item == 7"}], "mark": {"type": "rule", "color": "#3c3c64", "strokeWidth": 2, "xOffset": 3, "x2Offset": 2}, "encoding": {"x": {"datum": 1, "type": "quantitative", "scale": {"domain": [0.844, 5.422]}, "axis": null}, "x2": {"datum": 5}}},
{"transform": [{"filter": "datum.series != 'Average' && datum.series != 'Group 5'"}], "mark": {"type": "point", "filled": false, "opacity": 1, "size": 441, "strokeWidth": 1.7}, "encoding": {"x": {"field": "value", "type": "quantitative", "scale": {"domain": [0.844, 5.422]}, "axis": null}, "shape": {"field": "series", "type": "nominal", "scale": {"domain": ["Group 1","Group 2","Group 3","Group 4","Group 5"], "range": ["M0,-1L0,1M-1,0L1,0M-0.71,-0.71L0.71,0.71M-0.71,0.71L0.71,-0.71","circle","square","M-1,-0.9L1,-0.9L0,0.9Z","M-1,0L0,-1M-1,1L1,-1M0,1L1,0"]}, "legend": null}, "color": {"field": "series", "type": "nominal", "scale": {"domain": ["Group 1","Group 2","Group 3","Group 4","Group 5"], "range": ["#5f9e9e","#3b7a72","#b03a3a","#3a3a7c","#b8976e"]}, "legend": null}}},
{"transform": [{"filter": "datum.series == 'Group 5'"}], "mark": {"type": "point", "filled": false, "opacity": 1, "size": 441, "strokeWidth": 3}, "encoding": {"x": {"field": "value", "type": "quantitative", "scale": {"domain": [0.844, 5.422]}, "axis": null}, "shape": {"field": "series", "type": "nominal", "scale": {"domain": ["Group 1","Group 2","Group 3","Group 4","Group 5"], "range": ["M0,-1L0,1M-1,0L1,0M-0.71,-0.71L0.71,0.71M-0.71,0.71L0.71,-0.71","circle","square","M-1,-0.9L1,-0.9L0,0.9Z","M-1,0L0,-1M-1,1L1,-1M0,1L1,0"]}, "legend": null}, "color": {"field": "series", "type": "nominal", "scale": {"domain": ["Group 1","Group 2","Group 3","Group 4","Group 5"], "range": ["#5f9e9e","#3b7a72","#b03a3a","#3a3a7c","#b8976e"]}, "legend": null}}},
{"transform": [{"filter": "datum.series == 'Group 2'"}], "mark": {"type": "circle", "size": 12, "opacity": 1, "color": "#3b7a72"}, "encoding": {"x": {"field": "value", "type": "quantitative", "scale": {"domain": [0.844, 5.422]}, "axis": null}}},
{"transform": [{"filter": "datum.series == 'Average'"}], "mark": {"type": "tick", "orient": "vertical", "thickness": 5, "size": 22, "color": "#2e2e6e", "opacity": 1}, "encoding": {"x": {"field": "value", "type": "quantitative", "scale": {"domain": [0.844, 5.422]}, "axis": null}}}
]},
{"width": 385, "height": 108, "data": {"name": "scores"}, "transform": [{"filter": "datum.item == 7"}], "encoding": {"x": {"field": "series", "type": "nominal", "scale": {"domain": ["Average","Group 1","Group 2","Group 3","Group 4","Group 5"], "paddingInner": 0.054, "paddingOuter": 0.0875, "align": 0}, "axis": null}, "y": {"field": "item", "type": "nominal", "scale": {"paddingInner": 0, "paddingOuter": 0}, "axis": null}}, "layer": [
{"mark": {"type": "rect", "height": 25, "color": "#c9d6df"}},
{"mark": {"type": "text", "fontSize": 21.6, "color": "#111111"}, "encoding": {"text": {"field": "value", "type": "quantitative", "format": "~g"}}}
]}
]},

{"spacing": 4, "hconcat": [
{"width": 32, "height": 62, "view": {"fill": "#ede5dd"}, "data": {"name": "items"}, "transform": [{"filter": "datum.item == 8"}], "mark": {"type": "text", "fontSize": 20, "fontWeight": "bold", "color": "#3b3b75"}, "encoding": {"text": {"field": "item", "type": "nominal"}}},
{"width": 511, "height": 62, "view": {"fill": "#ede5dd"}, "data": {"name": "items"}, "transform": [{"filter": "datum.item == 8"}], "mark": {"type": "text", "align": "right", "dx": -7, "dy": -11, "fontSize": 21.6, "lineHeight": 24, "lineBreak": "\n", "color": "#1a1a1a"}, "encoding": {"text": {"field": "text", "type": "nominal"}, "x": {"value": "width"}}},
{"width": 341, "height": 62, "data": {"name": "scores"}, "transform": [{"filter": "datum.item == 8"}], "layer": [
{"data": {"name": "items"}, "transform": [{"filter": "datum.item == 8"}], "mark": {"type": "rule", "color": "#3c3c64", "strokeWidth": 2, "xOffset": 3, "x2Offset": 2}, "encoding": {"x": {"datum": 1, "type": "quantitative", "scale": {"domain": [0.844, 5.422]}, "axis": null}, "x2": {"datum": 5}}},
{"transform": [{"filter": "datum.series != 'Average' && datum.series != 'Group 5'"}], "mark": {"type": "point", "filled": false, "opacity": 1, "size": 441, "strokeWidth": 1.7}, "encoding": {"x": {"field": "value", "type": "quantitative", "scale": {"domain": [0.844, 5.422]}, "axis": null}, "shape": {"field": "series", "type": "nominal", "scale": {"domain": ["Group 1","Group 2","Group 3","Group 4","Group 5"], "range": ["M0,-1L0,1M-1,0L1,0M-0.71,-0.71L0.71,0.71M-0.71,0.71L0.71,-0.71","circle","square","M-1,-0.9L1,-0.9L0,0.9Z","M-1,0L0,-1M-1,1L1,-1M0,1L1,0"]}, "legend": null}, "color": {"field": "series", "type": "nominal", "scale": {"domain": ["Group 1","Group 2","Group 3","Group 4","Group 5"], "range": ["#5f9e9e","#3b7a72","#b03a3a","#3a3a7c","#b8976e"]}, "legend": null}}},
{"transform": [{"filter": "datum.series == 'Group 5'"}], "mark": {"type": "point", "filled": false, "opacity": 1, "size": 441, "strokeWidth": 3}, "encoding": {"x": {"field": "value", "type": "quantitative", "scale": {"domain": [0.844, 5.422]}, "axis": null}, "shape": {"field": "series", "type": "nominal", "scale": {"domain": ["Group 1","Group 2","Group 3","Group 4","Group 5"], "range": ["M0,-1L0,1M-1,0L1,0M-0.71,-0.71L0.71,0.71M-0.71,0.71L0.71,-0.71","circle","square","M-1,-0.9L1,-0.9L0,0.9Z","M-1,0L0,-1M-1,1L1,-1M0,1L1,0"]}, "legend": null}, "color": {"field": "series", "type": "nominal", "scale": {"domain": ["Group 1","Group 2","Group 3","Group 4","Group 5"], "range": ["#5f9e9e","#3b7a72","#b03a3a","#3a3a7c","#b8976e"]}, "legend": null}}},
{"transform": [{"filter": "datum.series == 'Group 2'"}], "mark": {"type": "circle", "size": 12, "opacity": 1, "color": "#3b7a72"}, "encoding": {"x": {"field": "value", "type": "quantitative", "scale": {"domain": [0.844, 5.422]}, "axis": null}}},
{"transform": [{"filter": "datum.series == 'Average'"}], "mark": {"type": "tick", "orient": "vertical", "thickness": 5, "size": 22, "color": "#2e2e6e", "opacity": 1}, "encoding": {"x": {"field": "value", "type": "quantitative", "scale": {"domain": [0.844, 5.422]}, "axis": null}}}
]},
{"width": 385, "height": 62, "data": {"name": "scores"}, "transform": [{"filter": "datum.item == 8"}], "encoding": {"x": {"field": "series", "type": "nominal", "scale": {"domain": ["Average","Group 1","Group 2","Group 3","Group 4","Group 5"], "paddingInner": 0.054, "paddingOuter": 0.0875, "align": 0}, "axis": null}, "y": {"field": "item", "type": "nominal", "scale": {"paddingInner": 0, "paddingOuter": 0}, "axis": null}}, "layer": [
{"mark": {"type": "rect", "height": 25, "color": "#c9d6df"}},
{"mark": {"type": "text", "fontSize": 21.6, "color": "#111111"}, "encoding": {"text": {"field": "value", "type": "quantitative", "format": "~g"}}}
]}
]}

]},
{"width": 2, "height": 628, "data": {"values": []}, "mark": "rect", "view": {"fill": "#000080"}}
]},
{"width": 1301, "height": 2, "data": {"values": []}, "mark": "rect", "view": {"fill": "#000080"}}
]}
]}
]}
]
}
